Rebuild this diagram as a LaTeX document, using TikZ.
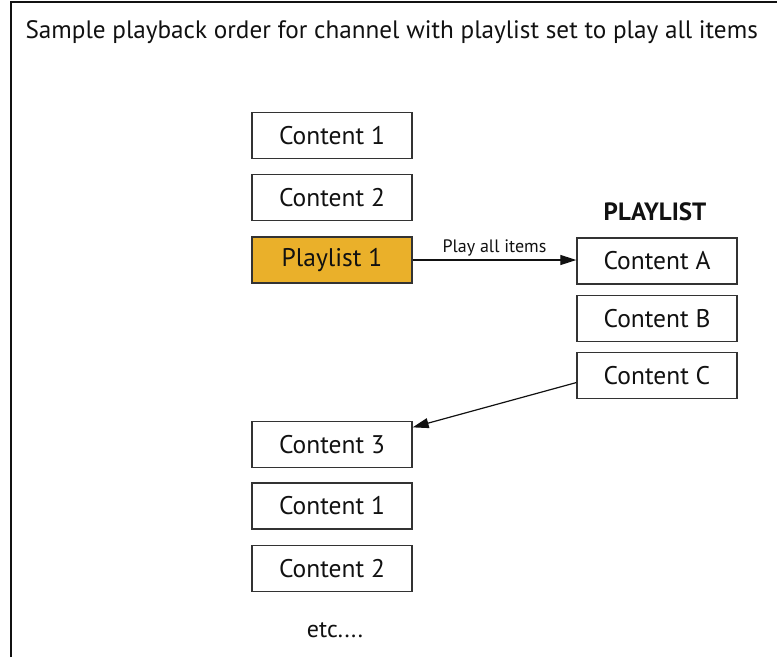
\documentclass[tikz,border=0pt]{standalone}
\usepackage{fontspec}
\setmainfont{PT Sans}
\usepackage{xcolor}
\usetikzlibrary{arrows.meta, positioning, calc}
\definecolor{ink}{HTML}{111111}
\definecolor{edge}{HTML}{333333}
\definecolor{gold}{HTML}{EAB02A}
\tikzset{
  font=\fontsize{25.5}{29}\selectfont,
  >={Triangle[length=16pt, width=10pt]},
  %
  item/.style={
    draw=edge, line width=1.3pt, fill=white, text=ink,
    minimum width=160pt, minimum height=46pt, inner sep=0pt,
  },
  itemp/.style={item, fill=gold},
  %
  flow/.style={draw=ink, line width=1.2pt, ->},
  lbl/.style={font=\fontsize{18}{20}\selectfont, text=ink, inner sep=2pt},
  head/.style={font=\fontsize{25}{28}\selectfont\bfseries, text=ink},
  frame/.style={draw=ink, line width=1.5pt},
}
\begin{document}
\begin{tikzpicture}[x=1pt, y=-1pt]
  \useasboundingbox (0,0) rectangle (777,657);

  % frame, top and left edge only
  \draw[frame] (11,657) -- (11,2) -- (777,2);
  \node[anchor=west, text=ink, font=\fontsize{25.2}{29}\selectfont] (title) at (22,32)
    {Sample playback order for channel with playlist set to play all items};

  % channel order
  \node[item]  (c1) at (332,135.5) {Content 1};
  \node[item]  (c2) at (332,197.5) {Content 2};
  \node[itemp] (p1) at (332,260)   {Playlist 1};

  \node[item]  (c3)  at (332,444.5) {Content 3};
  \node[item]  (c1b) at (332,506)   {Content 1};
  \node[item]  (c2b) at (332,568.5) {Content 2};
  \node[text=ink, font=\fontsize{24}{28}\selectfont] (etc) at (335,630) {etc....};

  % playlist
  \node[head] (plhead) at (655,212) {PLAYLIST};
  \node[item] (ca) at (657,261)   {Content A};
  \node[item] (cb) at (657,318.5) {Content B};
  \node[item] (cc) at (657,375.5) {Content C};

  \draw[flow] (p1.east) -- (p1.east -| ca.west)
    node[lbl, midway, above, yshift=1pt] (play) {Play all items};
  \draw[flow] (cc.185) -- (c3.12);

\end{tikzpicture}
\end{document}
